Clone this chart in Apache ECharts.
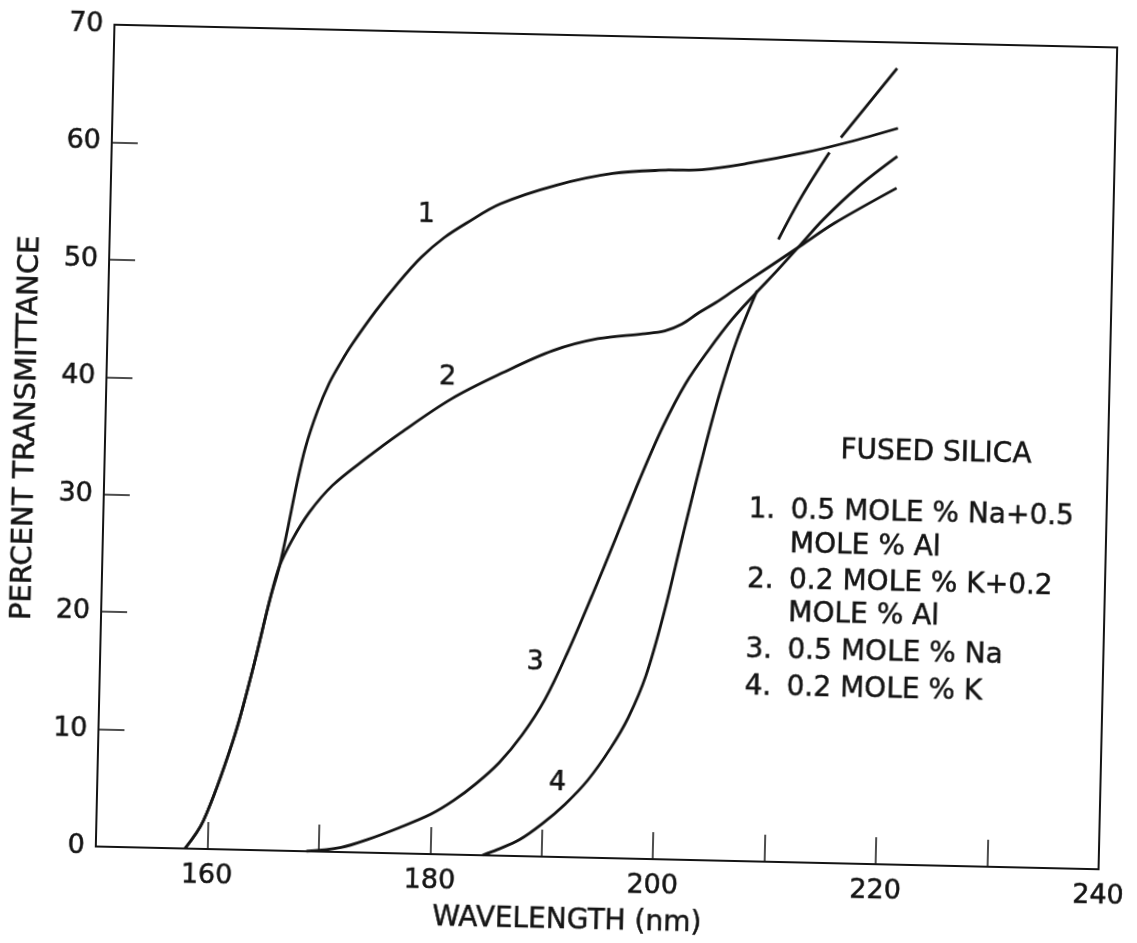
<!DOCTYPE html>
<html>
<head>
<meta charset="utf-8">
<script src="https://cdn.jsdelivr.net/npm/echarts@6/dist/echarts.min.js"></script>
<style>
  html, body { margin: 0; padding: 0; background: #fff; overflow: hidden; }
  /* the original drawing sits slightly askew on the page */
  #chart { width: 1137px; height: 943px; transform: rotate(1.3deg); transform-origin: 607px 447px; }
</style>
</head>
<body>
<div id="chart"></div>
<script>
// Curve 1: 0.5 mole % Na + 0.5 mole % Al
const curve1Wavelength = [158.0, 159.6, 162.1, 163.7, 165.1, 165.9, 166.6, 167.3, 168.0, 169.0, 170.0, 171.0, 172.0, 174.0, 176.0, 178.0, 180.0, 182.0, 185.0, 190.0, 195.0, 200.0, 203.0, 207.0, 212.0, 216.0, 220.5];
const curve1Percent    = [0.0, 2.4, 9.3, 15.3, 21.3, 24.2, 27.6, 31.3, 34.4, 37.5, 39.9, 41.7, 43.3, 46.1, 48.6, 50.8, 52.5, 53.8, 55.5, 57.2, 58.3, 58.7, 58.8, 59.4, 60.4, 61.4, 62.7];

// Curve 2: 0.2 mole % K + 0.2 mole % Al
const curve2Wavelength = [158.0, 159.6, 162.1, 163.7, 165.1, 165.9, 167.0, 168.5, 170.5, 173.5, 176.5, 181.0, 185.5, 190.0, 194.0, 198.0, 200.0, 201.5, 203.0, 204.5, 206.0, 209.0, 212.0, 215.0, 220.5];
const curve2Percent    = [0.0, 2.4, 9.3, 15.3, 21.3, 24.2, 26.5, 28.9, 31.2, 33.6, 35.8, 38.8, 41.1, 43.1, 44.2, 44.7, 45.0, 45.6, 46.6, 47.5, 48.5, 50.5, 52.5, 54.5, 57.6];

// Curve 3: 0.5 mole % Na
const curve3Wavelength = [168.9, 172.0, 174.3, 177.2, 180.0, 182.0, 184.0, 186.0, 188.0, 190.0, 192.0, 194.0, 196.0, 198.0, 200.0, 202.0, 204.0, 206.0, 208.0, 210.0, 212.0, 214.0, 217.0, 220.5];
const curve3Percent    = [0.0, 0.4, 1.1, 2.2, 3.4, 4.6, 6.1, 7.9, 10.3, 13.4, 17.6, 22.3, 27.2, 32.2, 36.8, 40.6, 43.5, 46.1, 48.3, 50.4, 52.6, 54.8, 57.6, 60.3];

// Curve 4: 0.2 mole % K (the pen lifts where it crosses the other curves)
const curve4Wavelength = [184.7, 186.0, 188.0, 190.0, 192.0, 194.0, 196.0, 197.5, 199.0, 200.5, 202.0, 203.5, 205.0, 206.5, 208.2, 209.1, 210.0, 212.0, 214.4, 214.9, 215.4, 220.3];
const curve4Percent    = [0.0, 0.5, 1.4, 2.8, 4.5, 6.6, 9.4, 12.0, 15.6, 21.0, 27.5, 33.8, 39.6, 44.4, 48.6, null, 53.0, 56.7, 60.5, null, 61.8, 67.8];

const xTickLabels = [160, 180, 200, 220, 240];
const curveNumbers = ['1', '2', '3', '4'];
const legendTitle = 'FUSED SILICA';
const legendNumbers = ['1.', '', '2.', '', '3.', '4.'];
const legendLines = ['0.5 MOLE % Na+0.5', 'MOLE % Al', '0.2 MOLE % K+0.2', 'MOLE % Al', '0.5 MOLE % Na', '0.2 MOLE % K'];

const INK = '#141414';
const FONT = '"DejaVu Sans", sans-serif';
const PEN = 0.5; // thin outline so the lettering reads as inked

function pairs(xs, ys) {
  return xs.map((x, i) => [x, ys[i] === null ? '-' : ys[i]]);
}

const curves = [
  pairs(curve1Wavelength, curve1Percent),
  pairs(curve2Wavelength, curve2Percent),
  pairs(curve3Wavelength, curve3Percent),
  pairs(curve4Wavelength, curve4Percent)
];

const chart = echarts.init(document.getElementById('chart'), null, { renderer: 'canvas' });

function label(text, x, y, size, align) {
  return {
    type: 'text', x: x, y: y,
    style: {
      text: text, fill: INK, font: size + 'px ' + FONT,
      textAlign: align, textVerticalAlign: 'middle',
      stroke: INK, lineWidth: PEN
    }
  };
}

// curve numbers written next to each curve
const curveNumberPos = [[421, 219], [446, 381], [540, 664], [565, 784]];
const graphics = curveNumbers.map((t, i) => label(t, curveNumberPos[i][0], curveNumberPos[i][1], 27, 'center'));

graphics.push(label(legendTitle, 936, 446, 28, 'center'));
const rowY = [507, 541, 577, 610, 647, 684];
legendLines.forEach((line, i) => {
  if (legendNumbers[i]) graphics.push(label(legendNumbers[i], 750, rowY[i], 28, 'left'));
  graphics.push(label(line, 792, rowY[i], 28, 'left'));
});

const axisText = { color: INK, fontFamily: FONT, textBorderColor: INK, textBorderWidth: PEN };

chart.setOption({
  backgroundColor: '#ffffff',
  animation: false,
  grid: {
    left: 105, right: 28, top: 36, bottom: 85,
    show: true, borderColor: INK, borderWidth: 2, backgroundColor: 'transparent'
  },
  xAxis: {
    type: 'value', min: 150, max: 240, interval: 10,
    axisLine: { show: true, lineStyle: { color: INK, width: 2 } },
    axisTick: { show: true, inside: true, length: 27, lineStyle: { color: INK, width: 1.5 } },
    axisLabel: Object.assign({
      fontSize: 27, margin: 13,
      formatter: v => (xTickLabels.indexOf(v) >= 0 ? String(v) : '')
    }, axisText),
    splitLine: { show: false },
    name: 'WAVELENGTH (nm)', nameLocation: 'middle', nameGap: 50,
    nameTextStyle: Object.assign({ fontSize: 28, padding: [0, 58, 0, 0] }, axisText)
  },
  yAxis: {
    type: 'value', min: 0, max: 70, interval: 10,
    axisLine: { show: true, lineStyle: { color: INK, width: 2 } },
    axisTick: { show: true, inside: true, length: 26, lineStyle: { color: INK, width: 1.5 } },
    axisLabel: Object.assign({ fontSize: 27, margin: 11 }, axisText),
    splitLine: { show: false },
    name: 'PERCENT TRANSMITTANCE', nameLocation: 'middle', nameGap: 64,
    nameTextStyle: Object.assign({ fontSize: 29, padding: [0, 0, 0, 12] }, axisText)
  },
  series: curves.map((data, i) => ({
    type: 'line',
    name: curveNumbers[i],
    data: data,
    showSymbol: false,
    symbol: 'none',
    smooth: 0.35,
    connectNulls: false,
    lineStyle: { color: INK, width: 2.8 },
    silent: true
  })),
  graphic: graphics
});
</script>
</body>
</html>
